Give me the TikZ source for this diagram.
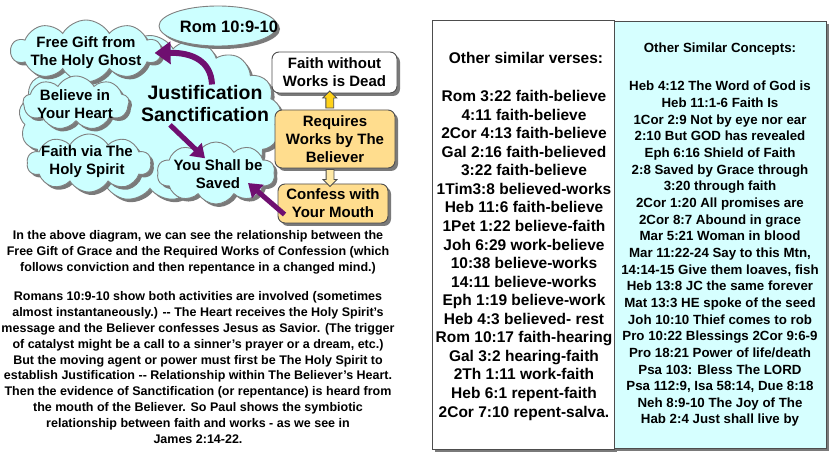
\documentclass[tikz,border=0pt]{standalone}
\usepackage{fontspec}
\setmainfont{Liberation Sans}
\usetikzlibrary{shapes.symbols,shapes.arrows,shapes.geometric,shadows,arrows.meta,calc}
\definecolor{cloudc}{HTML}{CCFFFF}
\definecolor{panelc}{HTML}{D6FFFF}
\definecolor{boxc}{HTML}{FFDD8E}
\definecolor{purp}{HTML}{6F0F70}
\definecolor{shade}{HTML}{7A7A7A}
\definecolor{edge}{HTML}{4D4D4D}
\definecolor{cloudline}{HTML}{808080}
\definecolor{gold}{HTML}{FFD21A}
\definecolor{paleor}{HTML}{FFE9A6}
\begin{document}
\begin{tikzpicture}[x=1pt,y=-1pt,
  shd/.style={drop shadow={shadow xshift=3pt,shadow yshift=-3pt,fill=shade,opacity=1}},
  cloudbg/.style={cloud, cloud puffs=10, cloud puff arc=120, cloud ignores aspect,
    draw=cloudline, fill=cloudc, line width=0.9pt, inner sep=0pt, shd},
  ctext/.style={align=center, inner sep=0pt, font=\fontsize{15}{18}\selectfont\bfseries},
  boxbase/.style={draw=edge, line width=0.9pt, rounded corners=7pt, inner sep=0pt,
    align=center, font=\fontsize{15}{18}\selectfont\bfseries, shd},
  blockarr/.style={single arrow, shape border rotate=#1, draw=edge, line width=0.8pt,
    inner sep=3.5pt, single arrow head extend=3pt, single arrow head indent=0pt,
    minimum height=17pt},
  purparr/.style={draw=purp, line width=5pt, -{Triangle[length=13pt,width=17pt]}},
  lcol/.style={anchor=base, inner sep=0pt, font=\fontsize{15.5}{18}\selectfont\bfseries},
  rcol/.style={anchor=base, inner sep=0pt, font=\fontsize{13.3}{16}\selectfont\bfseries},
  ptext/.style={anchor=base, inner sep=0pt, font=\fontsize{12.5}{16}\selectfont\bfseries},
  panel/.style={anchor=north west, inner sep=0pt, draw=edge, line width=0.9pt, shd}
]
\useasboundingbox (0,0) rectangle (836,470);
\fill[white] (0,0) rectangle (836,470);

% ---------- right-hand panels ----------
\node[panel, fill=white, minimum width=182pt, minimum height=429pt] (lpanel) at (432,20) {};
\node[panel, fill=panelc, minimum width=212pt, minimum height=427pt] (rpanel) at (614,21) {};

\node[lcol] (lhead) at (526,64) {Other similar verses:};
\foreach \t [count=\i] in {Rom 3:22 faith-believe, 4:11 faith-believe, 2Cor 4:13 faith-believe,
  Gal 2:16 faith-believed, 3:22 faith-believe, 1Tim3:8 believed-works, Heb 11:6 faith-believe,
  1Pet 1:22 believe-faith, Joh 6:29 work-believe, 10:38 believe-works, 14:11 believe-works,
  Eph 1:19 believe-work, Heb 4:3 believed- rest, Rom 10:17 faith-hearing, Gal 3:2 hearing-faith,
  2Th 1:11 work-faith, Heb 6:1 repent-faith, 2Cor 7:10 repent-salva.}
  \node[lcol] (v\i) at (524,{101.7+18.55*(\i-1)}) {\t};

\node[rcol] (rhead) at (720,52.5) {Other Similar Concepts:};
\foreach \t [count=\i] in {Heb 4:12 The Word of God is, Heb 11:1-6 Faith Is, 1Cor 2:9 Not by eye nor ear,
  2:10 But GOD has revealed, Eph 6:16 Shield of Faith, 2:8 Saved by Grace through, 3:20 through faith,
  2Cor 1:20 All promises are, 2Cor 8:7 Abound in grace, Mar 5:21 Woman in blood,
  {Mar 11:22-24 Say to this Mtn,}, {14:14-15 Give them loaves, fish}, Heb 13:8 JC the same forever,
  Mat 13:3 HE spoke of the seed, Joh 10:10 Thief comes to rob, Pro 10:22 Blessings 2Cor 9:6-9,
  Pro 18:21 Power of life/death, Psa 103: Bless The LORD, {Psa 112:9, Isa 58:14, Due 8:18},
  Neh 8:9-10 The Joy of The, Hab 2:4 Just shall live by}
  \node[rcol] (c\i) at (720,{91+16.65*(\i-1)}) {\t};

% ---------- paragraphs ----------
\foreach \t [count=\i] in {{In the above diagram, we can see the relationship between the},
  {Free Gift of Grace and the Required Works of Confession (which},
  {follows conviction and then repentance in a changed mind.)}}
  \node[ptext] (p\i) at (198,{239.5+16.2*(\i-1)}) {\t};
\foreach \t [count=\i] in {{Romans 10:9-10 show both activities are involved (sometimes},
  {almost instantaneously.) -{}- The Heart receives the Holy Spirit's},
  {message and the Believer confesses Jesus as Savior. (The trigger},
  {of catalyst might be a call to a sinner's prayer or a dream, etc.)},
  {But the moving agent or power must first be The Holy Spirit to},
  {establish Justification -{}- Relationship within The Believer's Heart.},
  {Then the evidence of Sanctification (or repentance) is heard from},
  {the mouth of the Believer. So Paul shows the symbiotic},
  {relationship between faith and works - as we see in},
  {James 2:14-22.}}
  \node[ptext] (q\i) at (198,{301+15.8*(\i-1)}) {\t};

% ---------- clouds ----------
\node[cloudbg, cloud puffs=17, minimum width=262pt, minimum height=165pt] (big) at (150,118) {};
\node[cloudbg, minimum width=150pt, minimum height=62pt] (free) at (86,51) {};
\node[cloudbg, cloud puffs=9, minimum width=106pt, minimum height=54pt] (believe) at (76,103) {};
\node[cloudbg, minimum width=124pt, minimum height=58pt] (faith) at (89,163) {};
\node[cloudbg, minimum width=118pt, minimum height=62pt] (saved) at (216,173) {};
\node[ellipse, draw=cloudline, fill=cloudc, line width=0.9pt, shd, minimum width=118pt,
  minimum height=40pt, inner sep=0pt] (rom) at (218,26) {};

\node[ctext] (freet) at (86,53) {Free Gift from\\The Holy Ghost};
\node[ctext] (believet) at (75,104) {Believe in\\Your Heart};
\node[ctext] (faitht) at (87,162) {Faith via The\\Holy Spirit};
\node[ctext] (savedt) at (218,174) {You Shall be\\Saved};
\node[inner sep=0pt, font=\fontsize{16.5}{19}\selectfont\bfseries] (romt) at (229,27) {Rom 10:9-10};
\node[align=center, inner sep=0pt, font=\fontsize{19.5}{21.7}\selectfont\bfseries] (just) at (205,103.7)
  {Justification\\Sanctification};

% ---------- boxes ----------
\node[boxbase, fill=white, minimum width=125pt, minimum height=41pt] (fwd) at (334.5,72.5)
  {Faith without\\Works is Dead};
\node[boxbase, fill=boxc, minimum width=120pt, minimum height=58pt] (req) at (335,139)
  {Requires\\Works by The\\Believer};
\node[boxbase, fill=boxc, minimum width=110pt, minimum height=39pt] (conf) at (333,203.5)
  {Confess with\\Your Mouth};

\node[blockarr=90, fill=gold] (upa) at ($(req.north)!0.5!(fwd.south)+(-5,0)$) {};
\node[blockarr=270, fill=paleor] (downa) at ($(req.south)!0.5!(conf.north)+(-4,0)$) {};

% ---------- purple arrows ----------
\draw[purparr, line width=6pt, -{Triangle[length=16pt,width=22pt]}]
  ($(just.north)+(7,-1)$) .. controls ($(just.north)+(6,-24)$) and ($(just.north)+(-12,-33)$)
  .. ($(freet.east)+(13,0)$);
\draw[purparr] ($(just.south)+(-35,3)$) -- ($(savedt.north)+(-13,-1)$);
\draw[purparr] ($(conf.west)+(7,11)$) -- ($(savedt.center)+(30,9)$);
\end{tikzpicture}
\end{document}
